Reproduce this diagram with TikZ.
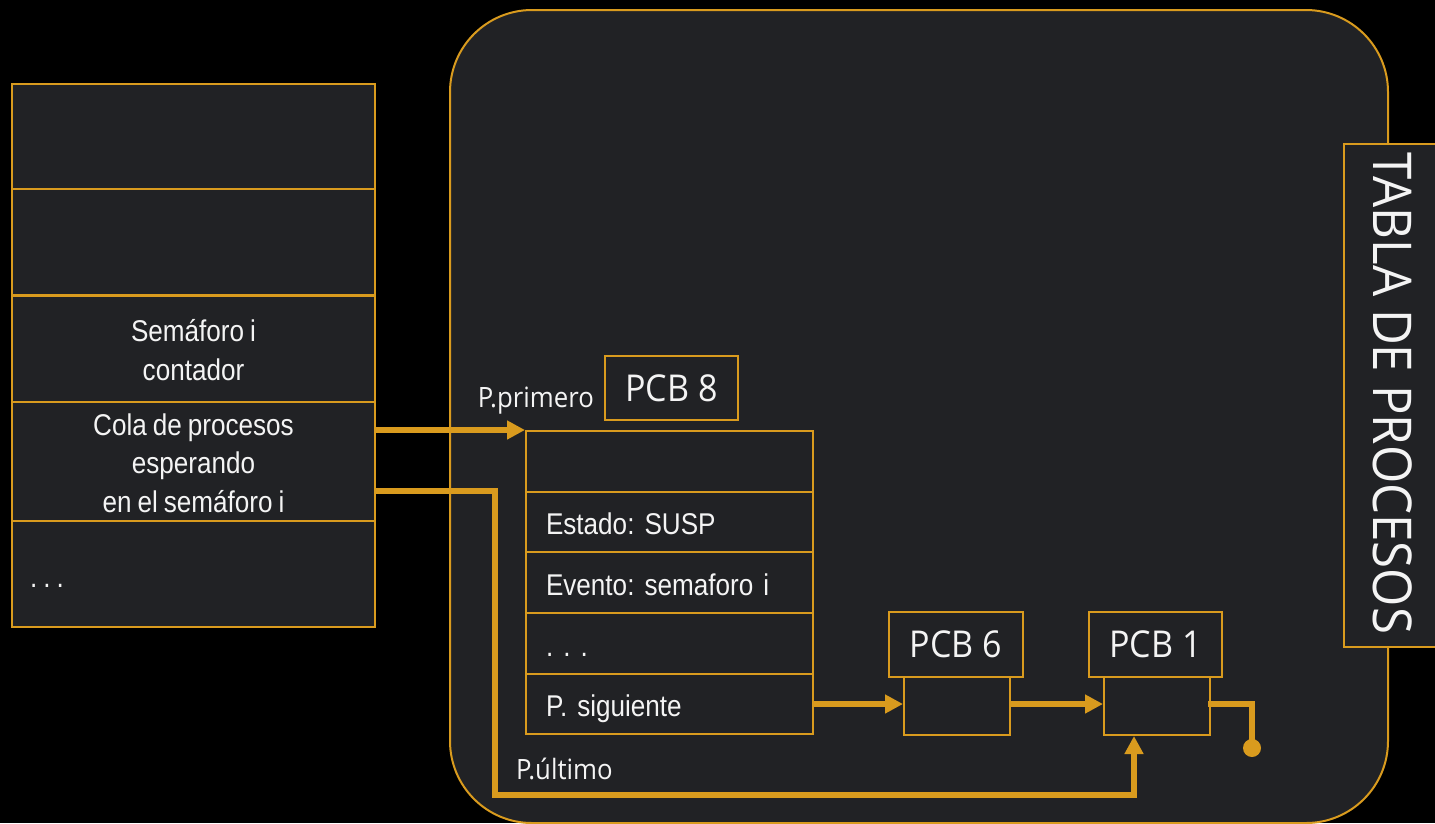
\documentclass[tikz,border=0pt]{standalone}
\usepackage{fontspec}
\usetikzlibrary{arrows.meta,calc}
\newfontfamily\arialn[FakeStretch=0.87]{Liberation Sans}
\newfontfamily\segoe[FakeStretch=0.92]{Open Sans}
\definecolor{gold}{HTML}{D99B1E}
\definecolor{panel}{HTML}{212225}
\definecolor{txt}{HTML}{F4F4F4}
\newcommand{\cellfont}{\arialn\fontsize{30}{38.5}\selectfont\frenchspacing\spaceskip=6pt\relax}
\tikzset{
  cell/.style={draw=gold, line width=2pt, fill=panel, inner sep=0pt, text=txt,
    font=\cellfont, align=center},
  lcell/.style={cell, align=left, text width=247pt, inner xsep=20pt,
    text height=30pt, text depth=5pt},
  lbl/.style={draw=gold, line width=2pt, fill=panel, inner sep=0pt, text=txt,
    font=\segoe\fontsize{37}{44}\selectfont},
  ptr/.style={text=txt, font=\segoe\fontsize{28}{32}\selectfont, inner sep=0pt},
  conn/.style={draw=gold, line width=5.5pt},
  arr/.style={conn, -{Triangle[length=18pt,width=18pt]}},
  enddot/.style={circle, fill=gold, minimum size=18pt, inner sep=0pt}
}
\begin{document}
\begin{tikzpicture}[x=1pt,y=-1pt]
\fill[black] (0,0) rectangle (1435,823);
\useasboundingbox (0,0) rectangle (1435,823);
\clip (0,0) rectangle (1435,823);
% big rounded panel
\draw[gold, line width=2pt, fill=panel, rounded corners=82pt] (450,10) rectangle (1388,823);
% TABLA DE PROCESOS
\node[lbl, minimum width=100pt, minimum height=503pt] (tablabox) at (1394,395.5) {};
\node[text=txt, font=\segoe\fontsize{53.5}{60}\selectfont, rotate=-90, inner sep=0pt] (tabla) at (1393,393.5) {TABLA DE PROCESOS};
% semaphore table
\node[cell, minimum width=363pt, minimum height=105pt] (s1) at (193.5,136.5) {};
\node[cell, minimum width=363pt, minimum height=106pt] (s2) at (193.5,242) {};
\node[cell, minimum width=363pt, minimum height=106pt] (s3) at (193.5,349) {\rule{0pt}{24pt}Semáforo i\\contador};
\node[cell, minimum width=363pt, minimum height=120pt] (s4) at (193.5,462) {\rule{0pt}{24pt}Cola de procesos\\esperando\\en el semáforo i};
\node[cell, minimum width=363pt, minimum height=106pt] (s5) at (193.5,574) {};
\node[text=txt, font=\cellfont, anchor=west, inner sep=0pt] (s5dots) at (30,586) {. . .};
% PCB 8
\node[lbl, minimum width=133pt, minimum height=64pt] (pcb8) at (671.5,388) {PCB 8};
\node[lcell, minimum height=61pt] (p1) at (669.5,461.5) {};
\node[lcell, minimum height=60pt] (p2) at (669.5,522) {Estado: SUSP};
\node[lcell, minimum height=61pt] (p3) at (669.5,582.5) {Evento: semaforo i};
\node[lcell, minimum height=61pt] (p4) at (669.5,643.5) {. . .};
\node[lcell, minimum height=60pt] (p5) at (669.5,704) {P. siguiente};
% PCB 6 and PCB 1
\node[lbl, minimum width=134pt, minimum height=65pt] (pcb6) at (956,644.5) {PCB 6};
\node[cell, minimum width=106pt, minimum height=58pt] (q6) at (957,706) {};
\node[lbl, minimum width=133pt, minimum height=65pt] (pcb1) at (1155.5,644.5) {PCB 1};
\node[cell, minimum width=106pt, minimum height=58pt] (q1) at (1157,706) {};
\node[enddot] (end) at (1252,748) {};
% pointer labels
\node[ptr, anchor=base east] (lprim) at (594,407) {P.primero};
\node[ptr, anchor=base west] (lult) at (516,779) {P.último};
% connectors
\draw[arr] (s4.east |- p1.north west) -- (p1.north west);
\coordinate (ulta) at (495,491);
\coordinate (ultb) at (495,795);
\coordinate (ultc) at (1134,795);
\draw[arr] (s4.east |- ulta) -- (ulta) -- (ultb) -- (ultc) -- (ultc |- q1.south);
\draw[arr] (p5.east |- 0,704) -- (q6.west |- 0,704);
\draw[arr] (q6.east |- 0,704) -- (q1.west |- 0,704);
\draw[conn] ([xshift=-3pt]q1.east |- 0,704) -| (end.center);
\end{tikzpicture}
\end{document}
